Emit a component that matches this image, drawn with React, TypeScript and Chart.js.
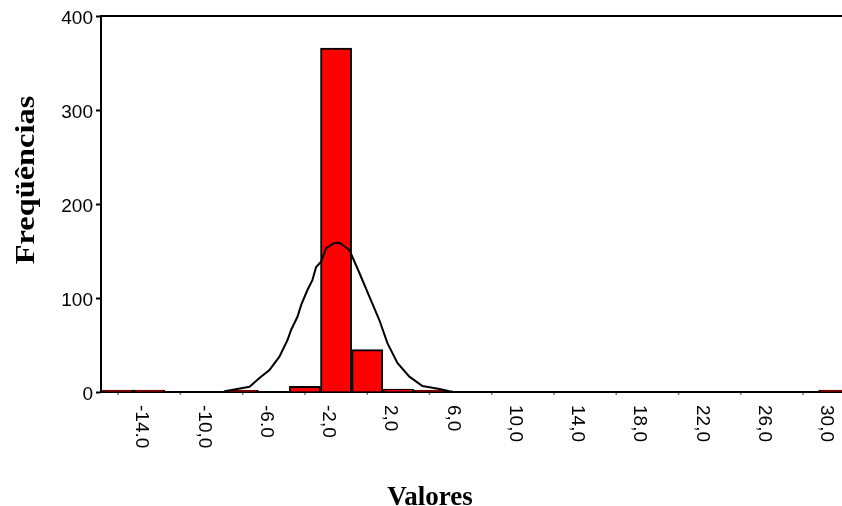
import React, { useEffect, useRef } from "react";
import { Chart, registerables } from "chart.js";

Chart.register(...registerables);

// Histogram bins (centre of each 2-unit bin) and their frequencies
const binCenters = [-15.5, -13.5, -7.5, -3.5, -1.5, 0.5, 2.5, 4.5, 30.5];
const binCounts = [2, 2, 2, 6, 366, 45, 3, 2, 2];

// Normal curve points
const curveX = [-8.7, -8.56, -7.06, -6.42, -5.78, -5.14, -4.62, -4.39, -3.98, -3.74, -3.34, -3.02, -2.78, -2.46, -2.14, -1.61, -1.28, -0.64, 0.0, 0.64, 1.28, 1.8, 2.44, 3.21, 4.05, 5.14, 5.78, 6.0];
const curveY = [0.5, 1, 5.6, 14.9, 23.4, 37.6, 55.3, 66, 80, 92.6, 108.5, 119, 133, 138.6, 153, 158.5, 158.8, 151, 126.6, 101.4, 76.6, 52, 30.9, 16.3, 6.4, 3.2, 0.8, 0.3];

// Axis ticks
const yTickValues = [0, 100, 200, 300, 400];
const xTickValues = [-14, -10, -6, -2, 2, 6, 10, 14, 18, 22, 26, 30];
const xTickLabels = ["-14.0", "-10,0", "-6.0", "-2,0", "2,0", "6,0", "10,0", "14,0", "18,0", "22,0", "26,0", "30,0"];
const xMinorTicks = [-15.5, -11.5, -7.5, -3.5, 0.5, 4.5, 8.5, 12.5, 16.5, 20.5, 24.5, 28.5];

const xTitle = "Valores";
const yTitle = "Freqüências";

const overlay = {
  id: "overlay",
  afterDraw(chart: any) {
    const { ctx, chartArea: a, scales } = chart;
    const xs = scales.x;
    ctx.save();
    // top frame line
    ctx.strokeStyle = "#000";
    ctx.lineWidth = 2;
    ctx.beginPath();
    ctx.moveTo(a.left - 1, a.top);
    ctx.lineTo(a.right, a.top);
    ctx.stroke();
    // small tick marks under x axis
    ctx.strokeStyle = "#777";
    ctx.lineWidth = 1.5;
    for (const v of xMinorTicks) {
      const px = xs.getPixelForValue(v);
      if (px < a.left || px > a.right) continue;
      ctx.beginPath();
      ctx.moveTo(px, a.bottom + 1);
      ctx.lineTo(px, a.bottom + 3);
      ctx.stroke();
    }
    // rotated x tick labels (reading top to bottom)
    ctx.fillStyle = "#000";
    ctx.font = '19px "Liberation Sans", Arial, sans-serif';
    xTickValues.forEach((v, i) => {
      const px = xs.getPixelForValue(v);
      ctx.save();
      ctx.translate(px, a.bottom + 13);
      ctx.rotate(Math.PI / 2);
      ctx.textAlign = "left";
      ctx.textBaseline = "middle";
      ctx.fillText(xTickLabels[i], 0, 0);
      ctx.restore();
    });
    // axis titles
    ctx.font = 'bold 27px "Liberation Serif", "Times New Roman", serif';
    ctx.textAlign = "center";
    ctx.textBaseline = "alphabetic";
    ctx.fillText(xTitle, 430, 505);
    ctx.save();
    ctx.translate(27, 180);
    ctx.rotate(-Math.PI / 2);
    ctx.scale(1.2, 1);
    ctx.textBaseline = "middle";
    ctx.fillText(yTitle, 0, 0);
    ctx.restore();
    ctx.restore();
  },
};

export default function App() {
  const ref = useRef<HTMLCanvasElement | null>(null);
  useEffect(() => {
    if (!ref.current) return;
    const chart = new Chart(ref.current, {
      type: "bar",
      data: {
        datasets: [
          {
            type: "line",
            data: curveX.map((x, i) => ({ x, y: curveY[i] })),
            borderColor: "#000",
            borderWidth: 2,
            pointRadius: 0,
            tension: 0,
            fill: false,
            order: 0,
          } as any,
          {
            type: "bar",
            data: binCenters.map((x, i) => ({ x, y: binCounts[i] })),
            backgroundColor: "#ff0000",
            borderColor: "#000",
            borderWidth: 2,
            barPercentage: 1,
            categoryPercentage: 1,
            order: 1,
          } as any,
        ],
      },
      options: {
        animation: false,
        responsive: true,
        maintainAspectRatio: false,
        layout: { padding: { top: 16, left: 0, right: 0, bottom: 0 } },
        plugins: { legend: { display: false }, tooltip: { enabled: false } },
        scales: {
          x: {
            type: "linear",
            min: -16.6,
            max: 31.0,
            offset: false,
            afterBuildTicks: (s: any) => {
              s.ticks = xTickValues.map((v) => ({ value: v }));
            },
            afterFit: (s: any) => {
              s.height = 114;
            },
            ticks: { display: false },
            grid: { display: false, drawTicks: false },
            border: { display: true, color: "#000", width: 2 },
          },
          y: {
            min: 0,
            max: 400,
            afterBuildTicks: (s: any) => {
              s.ticks = yTickValues.map((v) => ({ value: v }));
            },
            afterFit: (s: any) => {
              s.width = 101;
            },
            ticks: {
              color: "#000",
              padding: 3,
              labelOffset: 3,
              font: { family: '"Liberation Sans", Arial, sans-serif', size: 19 },
            },
            grid: {
              display: true,
              drawOnChartArea: false,
              drawTicks: true,
              tickLength: 5,
              tickWidth: 2,
              tickColor: "#000",
            },
            border: { display: true, color: "#000", width: 2 },
          },
        },
      },
      plugins: [overlay],
    });
    return () => chart.destroy();
  }, []);
  return (
    <div style={{ position: "fixed", left: 0, top: 0, width: 842, height: 506, background: "#fff" }}>
      <canvas ref={ref} />
    </div>
  );
}
